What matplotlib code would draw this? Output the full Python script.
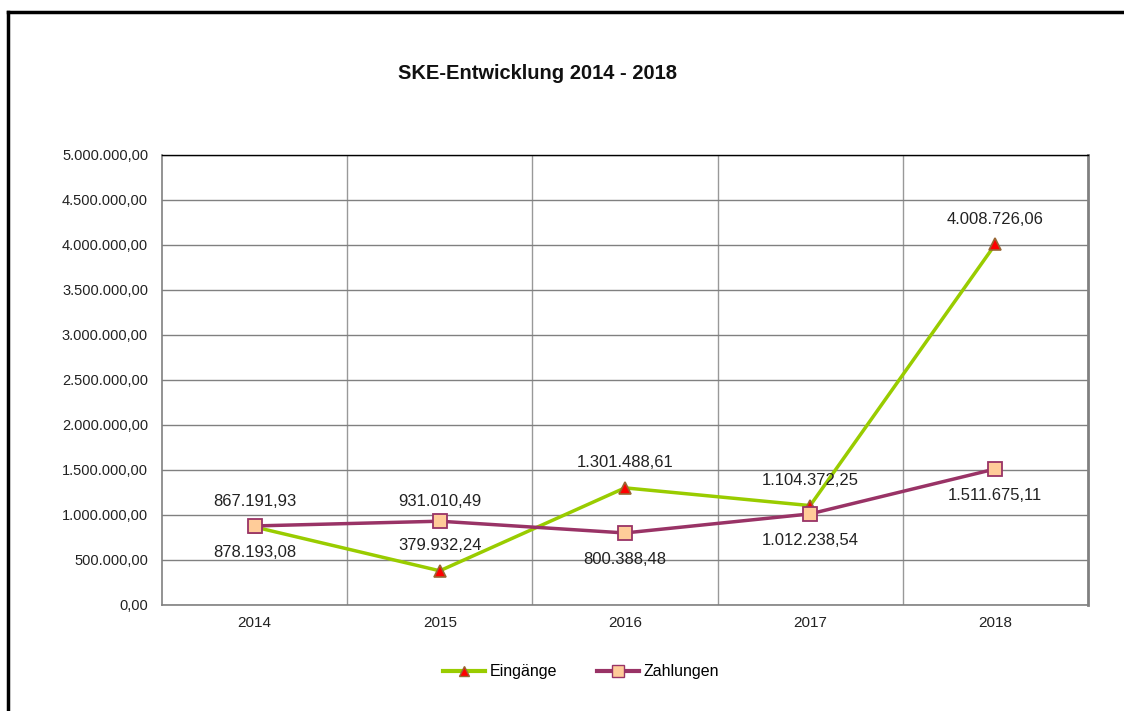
import matplotlib
matplotlib.use("Agg")
import matplotlib.pyplot as plt
from matplotlib.lines import Line2D
from matplotlib.ticker import FuncFormatter, MultipleLocator

plt.rcParams['font.family'] = ['Liberation Sans', 'DejaVu Sans']

# Data
years = ['2014', '2015', '2016', '2017', '2018']
eingaenge = [867191.93, 379932.24, 1301488.61, 1104372.25, 4008726.06]
zahlungen = [878193.08, 931010.49, 800388.48, 1012238.54, 1511675.11]
# where each value label sits relative to its point
eing_pos = ['above', 'above', 'above', 'above', 'above']
zahl_pos = ['below', 'above', 'below', 'below', 'below']


def de_fmt(v, pos=None):
    s = '{:,.2f}'.format(v)
    return s.replace(',', 'X').replace('.', ',').replace('X', '.')


fig = plt.figure(figsize=(11.24, 7.11), dpi=100)
ax = fig.add_axes([0.1441, 0.1491, 0.8238, 0.6329])

x = list(range(len(years)))
green = '#99CC00'
purple = '#993366'

ax.plot(x, eingaenge, color=green, lw=2.5, marker='^', ms=9,
        mfc='#FF0000', mec='#996633', mew=1.2, zorder=3, label='Eingänge')
ax.plot(x, zahlungen, color=purple, lw=2.5, marker='s', ms=10,
        mfc='#FFCC99', mec=purple, mew=1.3, zorder=4, label='Zahlungen')

for xi, v, p in zip(x, eingaenge, eing_pos):
    dy = 18 if p == 'above' else -19
    ax.annotate(de_fmt(v), (xi, v), xytext=(0, dy), textcoords='offset points',
                ha='center', va='center', fontsize=12, color='#222222', zorder=5)
for xi, v, p in zip(x, zahlungen, zahl_pos):
    dy = 14 if p == 'above' else -19
    ax.annotate(de_fmt(v), (xi, v), xytext=(0, dy), textcoords='offset points',
                ha='center', va='center', fontsize=12, color='#222222', zorder=5)

ax.set_xlim(-0.5, len(years) - 0.5)
ax.set_ylim(0, 5000000)
ax.yaxis.set_major_locator(MultipleLocator(500000))
ax.yaxis.set_major_formatter(FuncFormatter(de_fmt))
ax.set_xticks(x)
ax.set_xticklabels(years)
ax.set_xticks([i + 0.5 for i in x[:-1]], minor=True)
ax.tick_params(axis='both', which='both', length=0, labelsize=10.5, colors='#222222')
ax.tick_params(axis='x', labelsize=11, pad=8)
ax.tick_params(axis='y', pad=10)
ax.grid(axis='y', which='major', color='#808080', lw=1)
ax.grid(axis='x', which='minor', color='#999999', lw=1)
ax.set_axisbelow(True)

for side in ['left', 'bottom']:
    ax.spines[side].set_color('#808080')
    ax.spines[side].set_linewidth(1.2)
ax.spines['right'].set_color('#808080')
ax.spines['right'].set_linewidth(2)
ax.spines['top'].set_color('black')
ax.spines['top'].set_linewidth(1)

fig.text(0.478, 0.897, 'SKE-Entwicklung 2014 - 2018', ha='center', va='center',
         fontsize=14.5, fontweight='bold', color='#111111')

handles = [
    Line2D([], [], color=green, lw=3, marker='^', ms=7, mfc='#FF0000', mec='#996633'),
    Line2D([], [], color=purple, lw=3, marker='s', ms=8, mfc='#FFCC99', mec=purple),
]
fig.legend(handles, ['Eingänge', 'Zahlungen'], loc='center', bbox_to_anchor=(0.517, 0.055),
           ncol=2, frameon=False, fontsize=11.5, handlelength=2.6, columnspacing=2.5,
           handletextpad=0.3)

# outer frame (left and top edges)
fig.add_artist(Line2D([0.0075, 0.0075], [0, 0.983], color='black', lw=2.5,
                      transform=fig.transFigure))
fig.add_artist(Line2D([0.0075, 1.0], [0.983, 0.983], color='black', lw=2.5,
                      transform=fig.transFigure))

fig.savefig('out.png', dpi=100)
